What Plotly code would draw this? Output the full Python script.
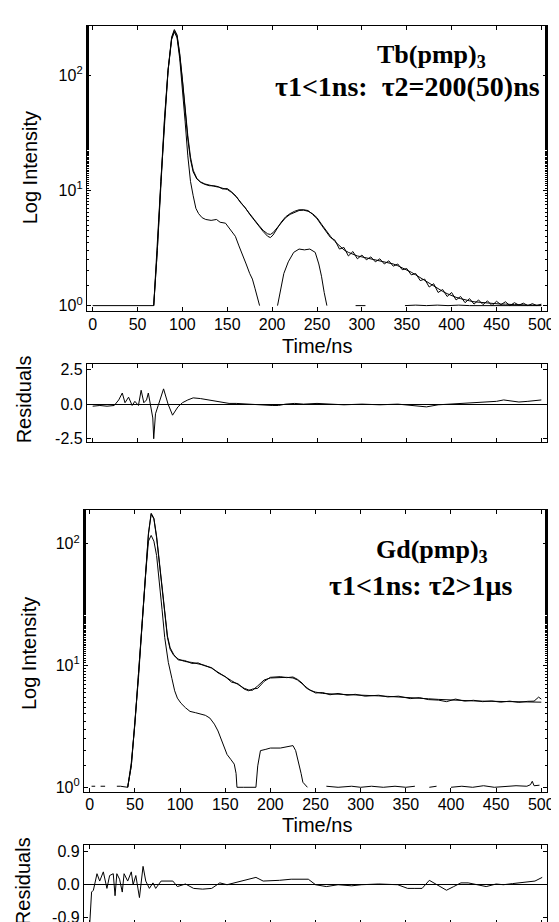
import plotly.graph_objects as go

W, H = 559, 922

# ---------------- Tb(pmp)3 panel ----------------
tb_x = [68,72,76,80,84,88,91,94,97,100,103,106,109,112,116,120,125,130,135,140,145,150,155,160,165,170,175,180,185,190,195,198,201,205,210,215,220,225,230,235,240,245,250,255,260,265,270,275,280,285,290,295,300,305,310,315,320,325,330,335,340,345,350,355,360,365,370,375,380,385,390,395,400,405,410,415,420,425,430,435,440,445,450,455,460,465,470,475,480,485,490,495,500]
tb_fit = [1.0,3.0,12,40,110,210,245,220,150,90,50,28,18.5,14.5,12.6,11.9,11.4,11.1,10.9,10.7,10.5,10.2,9.6,8.8,7.9,7.0,6.3,5.6,5.0,4.5,4.2,4.15,4.3,4.7,5.3,5.8,6.2,6.5,6.7,6.75,6.6,6.3,5.8,5.1,4.5,4.0,3.6,3.3,3.05,2.9,2.8,2.7,2.65,2.6,2.55,2.5,2.45,2.4,2.35,2.3,2.22,2.13,2.05,1.95,1.85,1.75,1.65,1.55,1.47,1.4,1.33,1.27,1.22,1.18,1.15,1.12,1.1,1.08,1.07,1.06,1.05,1.04,1.04,1.03,1.03,1.02,1.02,1.02,1.01,1.01,1.01,1.01,1.01]
tb_data = [1.0,3.2,12,42,112,215,250,225,155,92,52,30,19.5,15,12.8,11.8,11.3,11.0,11.0,10.8,10.3,10.4,9.7,8.9,7.8,7.1,6.2,5.5,4.9,4.4,4.0,3.9,4.1,4.6,5.3,5.9,6.3,6.6,6.8,6.8,6.7,6.2,5.7,5.0,4.4,3.9,3.7,3.1,3.2,2.7,2.95,2.55,2.75,2.5,2.65,2.4,2.55,2.3,2.45,2.2,2.3,2.05,2.1,1.85,1.9,1.65,1.7,1.45,1.55,1.3,1.38,1.2,1.3,1.12,1.2,1.06,1.15,1.03,1.12,1.02,1.1,1.0,1.09,1.02,1.08,1.0,1.06,1.01,1.05,1.0,1.04,1.0,1.03]

tb_irf_x = [0,66,68,72,76,80,84,88,91,94,97,100,103,106,109,112,115,118,122,126,132,138,142,148,153,159,163,167,171,175,178,181,184,186,
            195,
            206,210,213,218,224,230,236,242,248,252,255,258,261,
            277,
            293,304,
            326,
            348,360,372,384,396,408,420,432,444,456,468,480,492,500]
tb_irf = [1.0,1.0,1.0,3,12,40,110,205,238,212,140,80,40,20,12,9,7,6.3,5.8,5.6,5.5,5.6,5.3,5.2,4.6,4.0,3.3,2.7,2.3,1.9,1.7,1.4,1.1,1.0,
          None,
          1.0,1.5,1.9,2.4,2.9,3.1,3.05,3.1,2.9,2.3,1.8,1.3,1.0,
          None,
          1.0,1.0,
          None,
          1.0,1.01,1.0,1.01,1.0,1.01,1.0,1.0,1.01,1.0,1.0,1.01,1.0,1.0]

tb_res_x = [0,8,16,24,29,33,36,40,44,47,51,54,57,60,62,64,67,68,70,73,75,79,84,89,95,100,106,112,120,128,136,144,152,160,170,180,190,200,207,215,225,235,250,265,280,300,320,340,360,372,385,400,420,439,450,458,465,475,485,493,500]
tb_res = [-0.15,-0.1,-0.15,-0.1,0.3,0.8,0.1,0.5,-0.1,0.2,-0.1,1.0,0.1,0.3,0.8,0.0,-1.0,-2.5,-0.7,-0.1,0.3,1.1,0.0,-0.8,-0.2,0.1,0.3,0.45,0.4,0.3,0.2,0.1,0.05,0.05,0.0,-0.05,-0.05,-0.1,-0.1,0.0,0.05,0.0,0.05,0.0,-0.05,0.0,-0.05,0.0,-0.1,-0.2,-0.05,0.0,0.05,0.15,0.2,0.3,0.25,0.15,0.2,0.25,0.3]

# ---------------- Gd(pmp)3 panel ----------------
gd_x = [42,46,50,54,58,62,65,68,71,74,77,80,83,86,89,93,98,105,113,120,128,135,142,150,157,164,171,176,180,186,193,200,211,218,225,230,235,240,244,250,258,266,275,285,294,305,320,330,342,355,365,375,386,395,405,415,425,435,445,455,465,475,485,492,497,500]
gd_fit = [1.0,1.5,3.5,8,22,60,120,175,160,112,70,42,25,17,13.6,12.1,11.3,10.8,10.6,10.3,10.0,9.5,8.8,8.0,7.5,7.0,6.5,6.3,6.25,6.8,7.6,7.9,8.0,8.0,7.9,7.6,7.1,6.6,6.25,6.05,5.9,5.85,5.8,5.75,5.72,5.68,5.63,5.58,5.53,5.45,5.4,5.33,5.27,5.22,5.18,5.15,5.12,5.1,5.08,5.06,5.05,5.03,5.02,5.01,5.0,5.0]
gd_data = [1.0,1.6,3.3,8.3,23,62,122,178,162,115,72,43,26,17.5,14,12.3,11.1,11.0,10.4,10.5,9.9,9.6,8.7,8.1,7.3,7.1,6.4,6.2,6.4,6.5,7.4,8.0,8.1,7.95,8.05,7.7,7.2,6.5,6.3,5.95,6.0,5.75,5.9,5.7,5.8,5.6,5.7,5.52,5.6,5.35,5.45,5.25,5.2,5.05,5.3,5.1,5.18,5.05,5.12,5.0,5.1,4.98,5.08,5.1,5.5,5.3]

gd_irf_x = [2,6, 9, 12,17, 22, 30,34,
            42,46,50,54,58,62,65,68,71,74,77,80,83,87,91,94,97,101,106,111,117,122,128,133,138,142,146,149,152,156,160,162,163,170,177,184,186,189,195,200,211,218,225,228,231,234,236,241,
            260,262,275,290,300,312,325,338,350,360,
            368,
            376,384,
            392,
            400,412,424,436,448,460,472,484,488,490,492,498]
gd_irf = [1.02,1.02,None,1.02,1.02,None,1.02,1.02,
          1.0,1.5,3.4,8,22,58,105,117,105,80,50,29,17,10.6,7.8,6.2,5.4,4.9,4.5,4.2,4.1,4.0,3.9,3.7,3.3,2.9,2.4,2.1,1.86,1.7,1.55,1.3,1.0,1.0,1.0,1.0,1.5,2.0,2.05,2.1,2.1,2.15,2.2,2.0,1.65,1.3,1.1,1.0,
          None,1.02,1.0,1.02,1.0,1.02,1.0,1.02,1.0,1.02,
          None,
          1.0,1.02,
          None,
          1.0,1.02,1.0,1.03,1.0,1.02,1.03,1.02,1.05,1.12,1.03,1.04]

gd_res_x = [0,2,4,8,11,15,19,22,26,28,30,33,36,38,42,46,48,51,55,59,62,66,70,73,79,85,92,97,106,115,125,135,144,152,160,170,184,192,199,210,223,235,242,250,262,275,290,301,320,341,352,360,368,376,385,395,403,411,419,430,439,450,458,468,477,485,493,501]
gd_res = [-1.05,-0.2,-0.15,0.3,0.1,0.35,-0.1,0.25,0.3,-0.3,0.3,0.15,-0.2,0.3,0.1,0.35,0.0,0.25,-0.35,0.5,0.1,-0.1,0.05,-0.1,0.1,0.1,0.1,-0.05,0.02,-0.1,-0.12,-0.1,0.05,0.0,0.05,0.1,0.2,0.1,0.1,0.12,0.15,0.15,0.15,0.0,-0.05,0.0,-0.03,0.0,0.02,0.0,-0.1,-0.1,-0.1,0.12,0.0,-0.15,-0.05,0.05,0.05,0.0,-0.05,0.02,0.0,0.03,0.05,0.08,0.1,0.2]

xticks = [0, 50, 100, 150, 200, 250, 300, 350, 400, 450, 500]
log_ticks = [1, 10, 100]
log_ticktext = ["10<sup>0</sup>", "10<sup>1</sup>", "10<sup>2</sup>"]

# ---------------- figure ----------------
def dom_x(l, r):
    return [l / W, r / W]

def dom_y(t, b):
    return [1 - b / H, 1 - t / H]

fig = go.Figure()
line = dict(color="black", width=1)

fig.add_trace(go.Scatter(x=tb_irf_x, y=tb_irf, mode="lines", line=line, xaxis="x", yaxis="y"))
fig.add_trace(go.Scatter(x=tb_x, y=tb_fit, mode="lines", line=line, xaxis="x", yaxis="y"))
fig.add_trace(go.Scatter(x=tb_x, y=tb_data, mode="lines", line=line, xaxis="x", yaxis="y"))
fig.add_trace(go.Scatter(x=tb_res_x, y=tb_res, mode="lines", line=line, xaxis="x2", yaxis="y2"))

fig.add_trace(go.Scatter(x=gd_irf_x, y=gd_irf, mode="lines", line=line, xaxis="x3", yaxis="y3"))
fig.add_trace(go.Scatter(x=gd_x, y=gd_fit, mode="lines", line=line, xaxis="x3", yaxis="y3"))
fig.add_trace(go.Scatter(x=gd_x, y=gd_data, mode="lines", line=line, xaxis="x3", yaxis="y3"))
fig.add_trace(go.Scatter(x=gd_res_x, y=gd_res, mode="lines", line=line, xaxis="x4", yaxis="y4"))

tickfont = dict(family="Liberation Sans, Arial, sans-serif", size=16, color="black")
common_x = dict(range=[-6.5, 506.5], tickvals=xticks, ticks="inside", ticklen=4, mirror="allticks",
                showline=True, linecolor="black", linewidth=1, showgrid=False, zeroline=False,
                tickfont=tickfont, tickcolor="black", ticklabelstandoff=-2)
common_log = dict(type="log", tickvals=log_ticks, ticktext=log_ticktext, ticks="inside", ticklen=4,
                  mirror="allticks", showline=True, linecolor="black", linewidth=1, showgrid=False,
                  zeroline=False, tickfont=tickfont, tickcolor="black",
                  minor=dict(ticks="inside", ticklen=2, tickcolor="black", showgrid=False))
common_res = dict(ticks="inside", ticklen=4, mirror="allticks", showline=True, linecolor="black",
                  linewidth=1, showgrid=False, zeroline=True, zerolinecolor="black", zerolinewidth=1,
                  tickfont=tickfont, tickcolor="black")

fig.update_layout(
    width=W, height=H, margin=dict(l=0, r=0, t=0, b=0),
    paper_bgcolor="white", plot_bgcolor="white", showlegend=False,
    xaxis=dict(domain=dom_x(80, 547), anchor="y", showticklabels=True, **common_x),
    yaxis=dict(domain=dom_y(15, 303), anchor="x", range=[-0.05, 2.43], **common_log),
    xaxis2=dict(domain=dom_x(80, 547), anchor="y2", showticklabels=False, **common_x),
    yaxis2=dict(domain=dom_y(356, 435), anchor="x2", range=[-2.75, 2.9], tickvals=[-2.5, 0, 2.5],
                ticktext=["-2.5", "0.0", "2.5"], **common_res),
    xaxis3=dict(domain=dom_x(77, 547), anchor="y3", showticklabels=True, **common_x),
    yaxis3=dict(domain=dom_y(503, 788), anchor="x3", range=[-0.04, 2.28], **common_log),
    xaxis4=dict(domain=dom_x(77, 547), anchor="y4", showticklabels=False, **common_x),
    yaxis4=dict(domain=dom_y(841, 921), anchor="x4", range=[-1.07, 1.09], tickvals=[-0.9, 0, 0.9],
                ticktext=["-0.9", "0.0", "0.9"], **common_res),
)

lab = dict(family="Liberation Sans, Arial, sans-serif", size=20, color="black")
serif1 = dict(family="Liberation Serif, Times New Roman, serif", size=26, color="black")
serif2 = dict(family="Liberation Serif, Times New Roman, serif", size=28, color="black")

def ann(text, x, y, font, angle=0):
    fig.add_annotation(text=text, x=x / W, y=1 - y / H, xref="paper", yref="paper",
                       showarrow=False, font=font, textangle=angle, xanchor="center", yanchor="middle")

ann("Log Intensity", 22, 158, lab, -90)
ann("Time/ns", 313, 338, lab)
ann("Residuals", 16, 392, lab, -90)
ann("Log Intensity", 22, 648, lab, -90)
ann("Time/ns", 313, 821, lab)
ann("Residuals", 16, 878, lab, -90)

ann("<b>Tb(pmp)<sub>3</sub></b>", 430, 45, serif1)
ann("<b>τ1&lt;1ns:  τ2=200(50)ns</b>", 405, 76, serif2)
ann("<b>Gd(pmp)<sub>3</sub></b>", 430, 545, serif1)
ann("<b>τ1&lt;1ns: τ2&gt;1μs</b>", 418, 580, serif2)

fig.write_html("out.html")
